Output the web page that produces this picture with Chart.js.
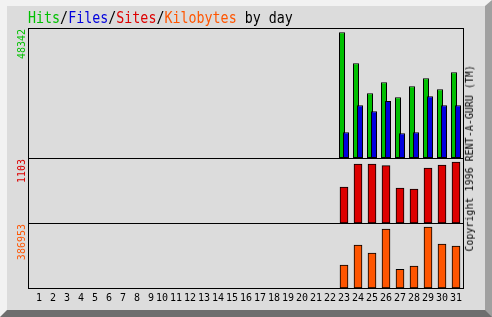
<!DOCTYPE html>
<html>
<head>
<meta charset="utf-8">
<script src="https://cdn.jsdelivr.net/npm/chart.js@4/dist/chart.umd.min.js"></script>
<style>
html,body{margin:0;padding:0;background:#ffffff;}
#wrap{position:relative;width:492px;height:317px;overflow:hidden;}
#bg{position:absolute;left:0;top:0;width:478px;height:304px;background:#dcdcdc;
  border-style:solid;border-width:6px 7px 7px 7px;border-color:#f2f2f2 #a0a0a0 #6e6e6e #f2f2f2;}
#chart{position:absolute;left:0;top:0;}
#title{position:absolute;left:28px;top:10px;font-family:'DejaVu Sans Mono',monospace;font-size:13.33px;line-height:14px;
  white-space:pre;transform-origin:left top;transform:scaleY(1.2);color:#000;}
.vlab{position:absolute;font-family:'DejaVu Sans Mono',monospace;font-size:10px;line-height:10px;
  writing-mode:vertical-rl;transform:rotate(180deg);white-space:pre;}
</style>
</head>
<body>
<div id="wrap">
  <div id="bg"></div>
  <canvas id="chart" width="492" height="317"></canvas>
  <div id="title"></div>
</div>
<script>
// ---- data ----
const dayLabels = [' 1',' 2',' 3',' 4',' 5',' 6',' 7',' 8',' 9','10','11','12','13','14','15','16',
                   '17','18','19','20','21','22','23','24','25','26','27','28','29','30','31'];
const hits   = [0,0,0,0,0,0,0,0,0,0,0,0,0,0,0,0,0,0,0,0,0,0,
                48342,36420,24880,29110,23340,27570,30650,26420,32960];
const files  = [0,0,0,0,0,0,0,0,0,0,0,0,0,0,0,0,0,0,0,0,0,0,
                9880,20270,17960,21920,9500,9880,23730,20270,20270];
const sites  = [0,0,0,0,0,0,0,0,0,0,0,0,0,0,0,0,0,0,0,0,0,0,
                649,1067,1067,1036,631,612,994,1048,1103];
const kbytes = [0,0,0,0,0,0,0,0,0,0,0,0,0,0,0,0,0,0,0,0,0,0,
                144710,272210,221210,374210,119210,138340,386953,278590,265840];
const seriesNames = ['Hits','Files','Sites','Kilobytes'];
const maxLabels = ['48342','1103','386953'];
const copyrightText = 'Copyright 1996 RENT-A-GURU (TM)';

// ---- styles ----
const C = {hits:'#00c000', files:'#0000dd', sites:'#dd0000', kbytes:'#ff5500'};
const seriesColors = [C.hits, C.files, C.sites, C.kbytes];

// title
const title = document.getElementById('title');
seriesNames.forEach((n, i) => {
  const s = document.createElement('span');
  s.style.color = seriesColors[i];
  s.textContent = n;
  title.appendChild(s);
  if (i < seriesNames.length - 1) title.appendChild(document.createTextNode('/'));
});
title.appendChild(document.createTextNode(' by day'));

// vertical labels
const wrap = document.getElementById('wrap');
function vlabel(text, color, left, top) {
  const d = document.createElement('div');
  d.className = 'vlab';
  d.style.color = color;
  d.style.left = left + 'px';
  d.style.top = top + 'px';
  d.textContent = text;
  wrap.appendChild(d);
}
vlabel(maxLabels[0], C.hits, 17, 29);
vlabel(maxLabels[1], C.sites, 17, 159);
vlabel(maxLabels[2], C.kbytes, 17, 224);
vlabel(copyrightText, '#000', 465, 65);

const nz = a => a.map(v => v === 0 ? null : v);

const hitsBehindFiles = {
  id: 'hitsBehindFiles',
  beforeDatasetDraw(chart, args) {
    if (args.index === 0) return false;
    if (args.index === 1) chart.getDatasetMeta(0).controller.draw();
  }
};

const frame = {
  id: 'frame',
  afterDatasetsDraw(chart) {
    const ctx = chart.ctx;
    const a = chart.chartArea;
    ctx.save();
    ctx.strokeStyle = '#000';
    ctx.lineWidth = 1;
    ctx.strokeRect(a.left - 0.5, a.top + 0.5, a.right - a.left + 1, a.bottom - a.top);
    [chart.scales.yh.bottom, chart.scales.ys.bottom].forEach(y => {
      const yy = Math.round(y) + 0.5;
      ctx.beginPath();
      ctx.moveTo(a.left - 1, yy);
      ctx.lineTo(a.right + 1, yy);
      ctx.stroke();
    });
    ctx.restore();
  }
};

const common = {borderColor:'#000', borderWidth:1, borderSkipped:false};

new Chart(document.getElementById('chart'), {
  type: 'bar',
  data: {
    labels: dayLabels,
    datasets: [
      Object.assign({label:seriesNames[0], data:nz(hits), yAxisID:'yh', backgroundColor:C.hits,
        grouped:true, categoryPercentage:8/14, barPercentage:1.5}, common),
      Object.assign({label:seriesNames[1], data:nz(files), yAxisID:'yh', backgroundColor:C.files,
        grouped:true, categoryPercentage:8/14, barPercentage:1.5}, common),
      Object.assign({label:seriesNames[2], data:nz(sites), yAxisID:'ys', backgroundColor:C.sites,
        grouped:false, barThickness:8}, common),
      Object.assign({label:seriesNames[3], data:nz(kbytes), yAxisID:'yk', backgroundColor:C.kbytes,
        grouped:false, barThickness:8}, common)
    ]
  },
  options: {
    responsive: false,
    animation: false,
    events: [],
    layout: {padding: {left:29, right:29, top:28, bottom:9}},
    plugins: {legend:{display:false}, tooltip:{enabled:false}},
    scales: {
      x: {
        type:'category', offset:true,
        grid:{display:false, drawTicks:false},
        border:{display:false},
        ticks:{color:'#000', font:{family:'DejaVu Sans Mono', size:10}, autoSkip:false,
               maxRotation:0, minRotation:0, padding:4},
        afterFit(s){ s.height = 20; }
      },
      yh: {display:false, position:'left', stack:'panels', stackWeight:130, weight:3, min:0, max:50000},
      ys: {display:false, position:'left', stack:'panels', stackWeight:65, weight:2, min:0, max:1175},
      yk: {display:false, position:'left', stack:'panels', stackWeight:65, weight:1, min:0, max:412330}
    }
  },
  plugins: [hitsBehindFiles, frame]
});
</script>
</body>
</html>
